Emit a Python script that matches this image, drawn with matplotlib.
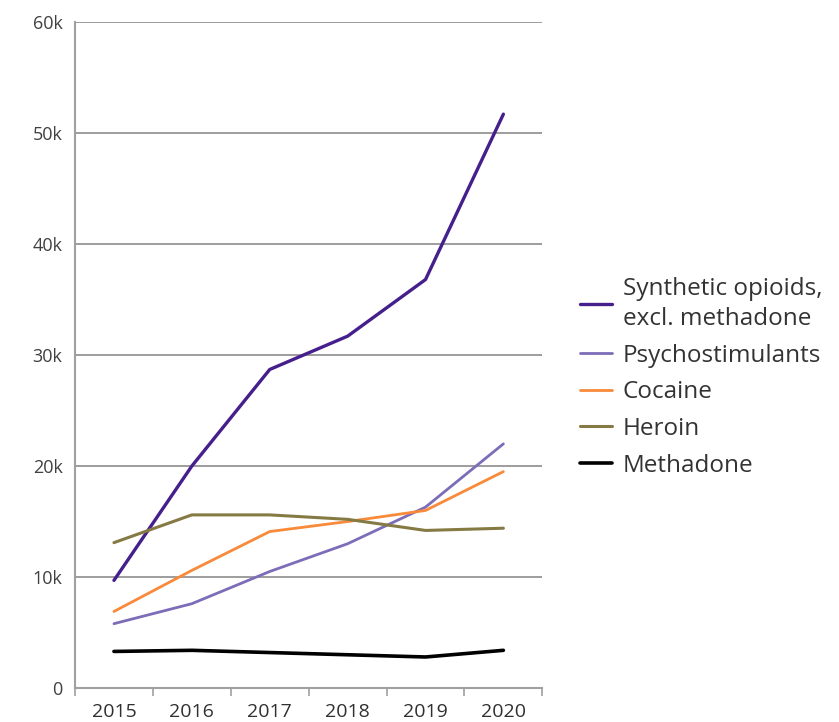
import matplotlib.pyplot as plt
from matplotlib.ticker import FixedLocator, FuncFormatter

years = ["2015", "2016", "2017", "2018", "2019", "2020"]
synthetic = [9700, 20000, 28700, 31700, 36800, 51700]
psychostimulants = [5800, 7600, 10500, 13000, 16300, 22000]
cocaine = [6900, 10600, 14100, 15000, 16000, 19500]
heroin = [13100, 15600, 15600, 15200, 14200, 14400]
methadone = [3300, 3400, 3200, 3000, 2800, 3400]

series = [
    ("Synthetic opioids,\nexcl. methadone", synthetic, "#45208c", 2.4),
    ("Psychostimulants", psychostimulants, "#7d6cb8", 2.0),
    ("Cocaine", cocaine, "#f88a3a", 2.0),
    ("Heroin", heroin, "#857a44", 2.2),
    ("Methadone", methadone, "#000000", 2.6),
]

plt.rcParams['font.family'] = ['Open Sans', 'DejaVu Sans']

fig = plt.figure(figsize=(8.39, 7.22), dpi=100)
ax = fig.add_axes([0.0894, 0.047, 0.557, 0.9225])

x = range(len(years))
for label, vals, color, lw in series:
    ax.plot(x, vals, color=color, lw=lw, label=label, solid_capstyle='round')

ax.set_xlim(-0.5, len(years) - 0.5)
ax.set_ylim(0, 60000)
ax.set_yticks(range(0, 60001, 10000))
ax.yaxis.set_major_formatter(FuncFormatter(lambda v, p: "0" if v == 0 else f"{int(v/1000)}k"))
ax.set_xticks(list(x))
ax.set_xticklabels(years)
ax.xaxis.set_minor_locator(FixedLocator([i - 0.5 for i in range(len(years) + 1)]))

ax.grid(axis='y', color='#8c8c8c', lw=1.2)
ax.set_axisbelow(True)
for s in ['top', 'right']:
    ax.spines[s].set_visible(False)
for s in ['left', 'bottom']:
    ax.spines[s].set_color('#a0a0a0')
    ax.spines[s].set_linewidth(1.5)

ax.tick_params(axis='y', length=0, pad=9, labelsize=13, labelcolor='#404040')
ax.tick_params(axis='x', which='major', length=0, pad=11, labelsize=14, labelcolor='#303030')
ax.tick_params(axis='x', which='minor', length=6, width=1.2, color='#a0a0a0')

leg = fig.legend(loc='upper left', bbox_to_anchor=(0.6655, 0.647), frameon=False,
                 fontsize=17.5, handlelength=1.3, handletextpad=0.45, labelspacing=0.52,
                 labelcolor='#333333')
for t in leg.get_texts():
    t.set_linespacing(1.35)

fig.savefig("out.png", dpi=100)
